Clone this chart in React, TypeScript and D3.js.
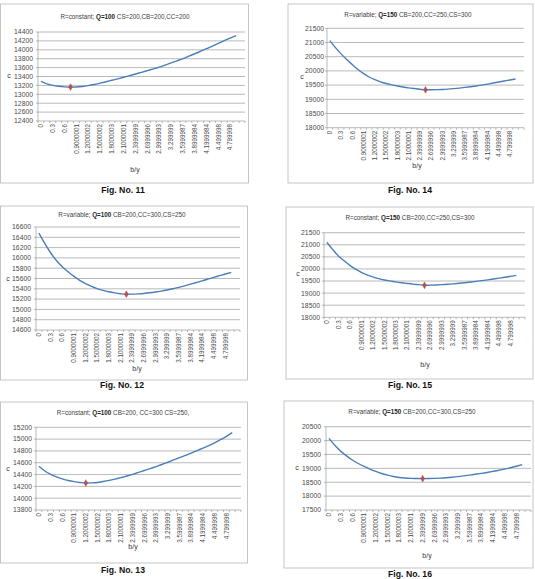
import * as d3 from "d3";
import React from "react";

// labels printed under every second category (float32 accumulation of 0.15)
const xTickLabels = [
  "0", "0.3", "0.6", "0.9000001", "1.2000002", "1.5000002", "1.8000003",
  "2.1000001", "2.3999999", "2.6999996", "2.9999993", "3.299999",
  "3.5999987", "3.8999984", "4.1999984", "4.499998", "4.799998",
];
// 35 categories on the axis, only the first 34 carry a value
const categories = d3.range(35).map((i) => (i % 2 === 0 ? xTickLabels[i / 2] ?? "" : ""));

// Fig. 11  R=constant; Q=100 CS=200,CB=200,CC=200
const fig11Ticks = [12400, 12600, 12800, 13000, 13200, 13400, 13600, 13800, 14000, 14200, 14400];
const fig11Cost = [
  13290, 13235, 13200, 13180, 13168, 13162, 13165, 13176, 13195, 13220, 13250, 13282,
  13315, 13348, 13382, 13418, 13457, 13494, 13532, 13570, 13610, 13657, 13705, 13752,
  13800, 13856, 13911, 13967, 14024, 14085, 14145, 14206, 14262, 14318,
];

// Fig. 14  R=variable; Q=150 CB=200,CC=250,CS=300
const fig14Ticks = [18000, 18500, 19000, 19500, 20000, 20500, 21000, 21500];
const fig14Cost = [
  21065, 20820, 20600, 20400, 20220, 20050, 19905, 19785, 19690, 19615, 19555, 19508,
  19468, 19433, 19403, 19378, 19355, 19335, 19337, 19340, 19347, 19358, 19375, 19395,
  19418, 19443, 19470, 19500, 19536, 19572, 19608, 19644, 19680, 19715,
];

// Fig. 12  R=variable; Q=100 CB=200,CC=300,CS=250
const fig12Ticks = [14600, 14800, 15000, 15200, 15400, 15600, 15800, 16000, 16200, 16400, 16600];
const fig12Cost = [
  16480, 16280, 16100, 15950, 15830, 15730, 15640, 15565, 15500, 15448, 15405, 15370,
  15342, 15320, 15304, 15295, 15297, 15302, 15310, 15322, 15337, 15355, 15376, 15400,
  15428, 15458, 15490, 15522, 15555, 15590, 15622, 15655, 15688, 15720,
];

// Fig. 15  R=constant; Q=150 CB=200,CC=250,CS=300
const fig15Ticks = [18000, 18500, 19000, 19500, 20000, 20500, 21000, 21500];
const fig15Cost = [
  21100, 20810, 20540, 20340, 20150, 19990, 19860, 19755, 19670, 19600, 19545, 19505,
  19465, 19430, 19400, 19372, 19350, 19325, 19330, 19338, 19350, 19365, 19385, 19408,
  19432, 19458, 19485, 19515, 19550, 19585, 19620, 19655, 19695, 19736,
];

// Fig. 13  R=constant; Q=100 CB=200, CC=300 CS=250,
const fig13Ticks = [13800, 14000, 14200, 14400, 14600, 14800, 15000, 15200];
const fig13Cost = [
  14540, 14460, 14405, 14362, 14328, 14300, 14280, 14266, 14257, 14259, 14266, 14283,
  14302, 14323, 14348, 14375, 14402, 14436, 14468, 14500, 14535, 14570, 14608, 14647,
  14686, 14724, 14763, 14805, 14847, 14890, 14938, 14990, 15048, 15110,
];

// Fig. 16  R=variable; Q=150 CB=200,CC=300,CS=250
const fig16Ticks = [17500, 18000, 18500, 19000, 19500, 20000, 20500];
const fig16Cost = [
  20080, 19830, 19620, 19450, 19300, 19175, 19070, 18975, 18890, 18815, 18755, 18705,
  18670, 18650, 18640, 18635, 18630, 18632, 18638, 18648, 18662, 18680, 18702, 18728,
  18756, 18786, 18818, 18852, 18890, 18930, 18975, 19022, 19075, 19132,
];

const FONT = "'Liberation Sans', Arial, sans-serif";
const LINE = "#4A7EBB";
const GRID = "#8C8C8C";

interface PanelProps {
  fig: string;
  box: [number, number, number, number];
  plot: { l: number; r: number; t: number; b: number };
  title: [string, string, string];
  titlePos: [number, number];
  yTicks: number[];
  values: number[];
  yLabelX: number;
  cPos: [number, number];
  byPos: [number, number];
  figPos: [number, number];
}

const Panel = (props: PanelProps) => {
  const { plot, box, values, yTicks } = props;
  const x = d3
    .scaleBand()
    .domain(categories.map((_, i) => String(i)))
    .range([plot.l, plot.r]);
  const y = d3
    .scaleLinear()
    .domain(d3.extent(yTicks) as [number, number])
    .range([plot.b, plot.t]);
  const cx = (i: number) => x(String(i))! + x.bandwidth() / 2;
  const line = d3
    .line<number>()
    .x((_, i) => cx(i))
    .y((d) => y(d))
    .curve(d3.curveMonotoneX);
  const mi = d3.minIndex(values);
  const diamond = d3.symbol(d3.symbolDiamond, 13)()!;

  return (
    <g>
      <rect x={box[0]} y={box[1]} width={box[2]} height={box[3]} fill="white" stroke="#BFBFBF" strokeWidth={0.9} />
      <text x={props.titlePos[0]} y={props.titlePos[1]} dy="0.35em" textAnchor="middle" fontSize={6.3} fill="#404040">
        <tspan>{props.title[0]}</tspan>
        <tspan fontWeight="bold" fill="#222">{props.title[1]}</tspan>
        <tspan>{props.title[2]}</tspan>
      </text>
      {yTicks.map((t) => (
        <g key={t}>
          <line x1={plot.l} x2={plot.r} y1={y(t)} y2={y(t)} stroke={GRID} strokeWidth={0.6} />
          <line x1={plot.l - 2} x2={plot.l} y1={y(t)} y2={y(t)} stroke={GRID} strokeWidth={0.6} />
          <text x={props.yLabelX} y={y(t)} dy="0.35em" textAnchor="end" fontSize={6.8} fill="#4a4a4a">
            {t}
          </text>
        </g>
      ))}
      <line x1={plot.l} x2={plot.l} y1={plot.t} y2={plot.b} stroke={GRID} strokeWidth={0.6} />
      {d3.range(categories.length + 1).map((i) => (
        <line key={i} x1={plot.l + i * x.step()} x2={plot.l + i * x.step()} y1={plot.b} y2={plot.b + 2} stroke={GRID} strokeWidth={0.6} />
      ))}
      {categories.map((c, i) =>
        c ? (
          <text key={i} transform={`translate(${cx(i)},${plot.b + 3}) rotate(-90)`} dy="0.35em" textAnchor="end" fontSize={6.3} fill="#4a4a4a">
            {c}
          </text>
        ) : null
      )}
      <text x={props.cPos[0]} y={props.cPos[1]} dy="0.35em" textAnchor="middle" fontSize={7} fill="#333">
        c
      </text>
      <text x={props.byPos[0]} y={props.byPos[1]} dy="0.35em" textAnchor="middle" fontSize={7} fill="#333">
        b/y
      </text>
      <path d={line(values) ?? ""} fill="none" stroke={LINE} strokeWidth={1.4} />
      <path d={diamond} transform={`translate(${cx(mi)},${y(values[mi])})`} fill="#C0504D" stroke="#A0403D" strokeWidth={0.4} />
      <text x={props.figPos[0]} y={props.figPos[1]} dy="0.35em" textAnchor="middle" fontSize={8.7} fontWeight="bold" fill="#111">
        {props.fig}
      </text>
    </g>
  );
};

const App = () => {
  return (
    <svg width={535} height={579} style={{ position: "absolute", left: 0, top: 0, background: "white" }} fontFamily={FONT}>
      <Panel
        fig="Fig. No. 11"
        box={[0.5, 4, 248, 179]}
        plot={{ l: 38, r: 245, t: 32, b: 121 }}
        title={["R=constant;  ", "Q=100", " CS=200,CB=200,CC=200"]}
        titlePos={[125, 17]}
        yTicks={fig11Ticks}
        values={fig11Cost}
        yLabelX={33}
        cPos={[9, 76]}
        byPos={[135, 170]}
        figPos={[123, 190]}
      />
      <Panel
        fig="Fig. No. 14"
        box={[288, 4, 245, 179]}
        plot={{ l: 327, r: 524, t: 28.3, b: 127.7 }}
        title={["R=variable;  ", "Q=150", " CB=200,CC=250,CS=300"]}
        titlePos={[408, 15]}
        yTicks={fig14Ticks}
        values={fig14Cost}
        yLabelX={324}
        cPos={[302, 77]}
        byPos={[417, 166]}
        figPos={[410, 190]}
      />
      <Panel
        fig="Fig. No. 12"
        box={[0.5, 206, 247, 174]}
        plot={{ l: 36, r: 240, t: 227, b: 330 }}
        title={["R=variable;  ", "Q=100", " CB=200,CC=300,CS=250"]}
        titlePos={[122, 215]}
        yTicks={fig12Ticks}
        values={fig12Cost}
        yLabelX={31}
        cPos={[8, 279]}
        byPos={[137, 369]}
        figPos={[122, 385]}
      />
      <Panel
        fig="Fig. No. 15"
        box={[286, 207, 247, 172]}
        plot={{ l: 324, r: 525, t: 232.7, b: 317.3 }}
        title={["R=constant;  ", "Q=150", " CB=200,CC=250,CS=300"]}
        titlePos={[410, 218]}
        yTicks={fig15Ticks}
        values={fig15Cost}
        yLabelX={320}
        cPos={[298, 274]}
        byPos={[425, 365]}
        figPos={[410, 385]}
      />
      <Panel
        fig="Fig. No. 13"
        box={[0.5, 402, 247, 161]}
        plot={{ l: 36, r: 241, t: 427.3, b: 510 }}
        title={["R=constant;  ", "Q=100", " CB=200, CC=300 CS=250,"]}
        titlePos={[123, 413]}
        yTicks={fig13Ticks}
        values={fig13Cost}
        yLabelX={32}
        cPos={[8, 469]}
        byPos={[133, 547]}
        figPos={[123, 570]}
      />
      <Panel
        fig="Fig. No. 16"
        box={[284, 401, 249, 167]}
        plot={{ l: 326, r: 531, t: 426.7, b: 510 }}
        title={["R=variable;  ", "Q=150", " CB=200,CC=300,CS=250"]}
        titlePos={[412, 412]}
        yTicks={fig16Ticks}
        values={fig16Cost}
        yLabelX={321}
        cPos={[297, 468]}
        byPos={[427, 556]}
        figPos={[410, 574]}
      />
    </svg>
  );
};

export default App;
